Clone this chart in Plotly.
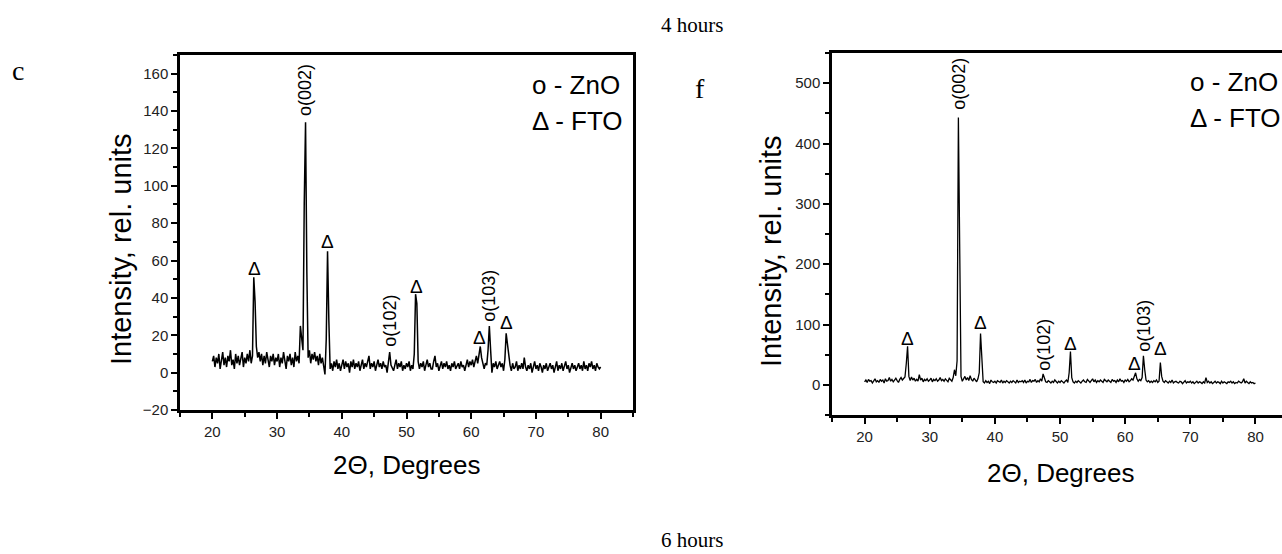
import plotly.graph_objects as go

# ---------------- data ----------------
two_theta_start = 20.0
two_theta_step = 0.2

# panel c (4 hours) intensity, every 0.2 degree, 20.0 .. 80.0
intensity_c = [
    6, 9, 3, 8, 5, 10, 2, 7, 11, 4,        # 20.0
    8, 3, 9, 6, 12, 4, 7, 2, 10, 5,        # 22.0
    9, 4, 7, 11, 3, 8, 5, 10, 6, 12,       # 24.0
    5, 9, 51, 38, 14, 8, 11, 6, 10, 4,     # 26.0
    9, 5, 11, 7, 3, 9, 6, 10, 4, 8,        # 28.0
    6, 10, 3, 8, 5, 11, 7, 2, 9, 6,        # 30.0
    10, 4, 8, 3, 11, 6, 9, 5, 25, 17,      # 32.0
    12, 91, 134, 54, 8, 12, 5, 10, 7, 11,  # 34.0
    6, 9, 4, 10, 5, 8, 3, -1, 18, 65,      # 36.0
    28, 2, 5, 1, 6, 3, 7, 2, 5, 1,         # 38.0
    4, 7, 2, 6, 3, 5, 0, 6, 3, 7,          # 40.0
    2, 5, 3, 6, 1, 4, 7, 2, 5, 3,          # 42.0
    6, 9, 2, 5, 3, 6, 1, 4, 7, 3,          # 44.0
    5, 2, 6, 3, 4, 0, 5, 11, 4, 2,         # 46.0
    1, 4, 7, 2, 5, 3, 6, 1, 4, 2,          # 48.0
    5, 3, 6, 1, 4, 2, 10, 42, 37, 6,       # 50.0
    2, 5, 3, 6, 1, 4, 7, 3, 5, 2,          # 52.0
    2, 6, 9, 3, 5, 1, 4, 6, 2, 5,          # 54.0
    3, 6, 2, 4, 1, 5, 3, 6, 2, 4,          # 56.0
    5, 2, 6, 3, 4, 1, 5, 7, 3, 6,          # 58.0
    4, 7, 3, 6, 9, 5, 9, 14, 8, 4,         # 60.0
    2, 5, 4, 12, 25, 12, 0, 5, 3, 6,       # 62.0
    2, 4, 6, 3, 5, 1, 7, 21, 15, 7,        # 64.0
    4, 1, 5, 2, 3, 6, 1, 4, 2, 5,          # 66.0
    2, 8, 3, 1, 4, 2, 5, 0, 3, 6,          # 68.0
    2, 4, 1, 5, 3, 0, 4, 2, 5, 1,          # 70.0
    3, 5, 2, 4, 0, 3, 6, 1, 4, 2,          # 72.0
    5, 1, 3, 6, 2, 4, 0, 3, 5, 2,          # 74.0
    4, 1, 3, 5, 2, 4, 1, 6, 2, 4,          # 76.0
    1, 5, 3, 6, 2, 4, 1, 5, 3, 2,          # 78.0
    3,                                     # 80.0
]

# panel f (6 hours) intensity, every 0.2 degree, 20.0 .. 80.0
intensity_f = [
    5, 8, 4, 9, 6, 7, 3, 8, 10, 5,         # 20.0
    7, 4, 9, 6, 8, 3, 10, 6, 7, 12,        # 22.0
    6, 9, 5, 8, 11, 7, 4, 9, 12, 8,        # 24.0
    10, 13, 35, 64, 14, 7, 13, 8, 11, 6,   # 26.0
    9, 6, 17, 8, 11, 5, 9, 7, 10, 6,       # 28.0
    8, 11, 5, 9, 7, 10, 6, 8, 12, 7,       # 30.0
    9, 6, 10, 7, 5, 11, 8, 6, 12, 25,      # 32.0
    15, 40, 443, 270, 14, 6, 9, 14, 8, 12, # 34.0
    7, 15, 9, 6, 11, 8, 5, 10, 20, 85,     # 36.0
    30, 5, 3, 7, 4, 6, 2, 8, 5, 4,         # 38.0
    6, 3, 7, 5, 4, 8, 3, 6, 4, 7,          # 40.0
    5, 3, 6, 4, 7, 5, 3, 8, 4, 6,          # 42.0
    5, 7, 4, 8, 3, 6, 5, 9, 4, 7,          # 44.0
    6, 9, 4, 7, 5, 10, 6, 18, 9, 5,        # 46.0
    4, 7, 5, 3, 6, 4, 8, 5, 3, 6,          # 48.0
    4, 7, 5, 3, 6, 8, 4, 20, 55, 12,       # 50.0
    5, 3, 6, 4, 7, 5, 3, 6, 8, 5,          # 52.0
    4, 9, 6, 4, 7, 10, 5, 8, 4, 7,         # 54.0
    5, 8, 6, 4, 9, 7, 5, 8, 6, 4,          # 56.0
    9, 6, 7, 4, 8, 5, 10, 6, 7, 4,         # 58.0
    8, 6, 9, 5, 7, 10, 8, 14, 20, 10,      # 60.0
    6, 9, 7, 12, 48, 25, 8, 5, 7, 4,       # 62.0
    6, 4, 7, 5, 8, 4, 6, 37, 14, 6,        # 64.0
    4, 7, 5, 3, 6, 4, 8, 3, 5, 6,          # 66.0
    4, 3, 6, 5, 2, 4, 7, 3, 5, 4,          # 68.0
    6, 3, 5, 2, 4, 6, 3, 5, 4, 2,          # 70.0
    5, 3, 12, 4, 6, 3, 5, 2, 4, 6,         # 72.0
    3, 5, 4, 2, 6, 3, 5, 4, 2, 5,          # 74.0
    4, 6, 3, 5, 2, 4, 3, 6, 4, 3,          # 76.0
    5, 10, 3, 6, 4, 2, 5, 3, 4, 2,         # 78.0
    3,                                     # 80.0
]

two_theta = [round(two_theta_start + i * two_theta_step, 1) for i in range(len(intensity_c))]

# peak labels (text, 2theta, intensity where label sits)
peak_text = ["Δ", "o(002)", "Δ", "o(102)", "Δ", "o(103)", "Δ", "Δ"]
peak_x_c = [26.5, 34.4, 37.8, 47.5, 51.5, 62.7, 61.3, 65.4]
peak_y_c = [56, 151, 70, 28, 46, 41, 19, 27]
peak_x_f = [26.6, 34.5, 37.8, 47.5, 51.6, 62.9, 61.5, 65.4]
peak_y_f = [77, 499, 103, 66, 68, 98, 36, 61]

legend_lines = ["o - ZnO", "Δ - FTO"]
x_title = "2Θ, Degrees"
y_title = "Intensity, rel. units"

# ---------------- figure ----------------
W, H = 1282, 554
SANS = "Liberation Sans, Arial, sans-serif"
SERIF = "Liberation Serif, Times New Roman, serif"


def px(x):
    return x / W


def py(y):
    return 1 - y / H


fig = go.Figure()
fig.add_trace(go.Scatter(x=two_theta, y=intensity_c, mode="lines",
                         line=dict(color="black", width=1.5), xaxis="x", yaxis="y",
                         showlegend=False, hoverinfo="skip"))
fig.add_trace(go.Scatter(x=two_theta, y=intensity_f, mode="lines",
                         line=dict(color="black", width=1.3), xaxis="x2", yaxis="y2",
                         showlegend=False, hoverinfo="skip"))

tickfont = dict(family=SANS, size=15, color="#222222")
common_axis = dict(showgrid=False, zeroline=False, showline=True, linecolor="black",
                   linewidth=2.5, ticks="outside", ticklen=6, tickwidth=2,
                   tickcolor="black", tickfont=tickfont, automargin=False)

fig.update_layout(
    width=W, height=H, autosize=False,
    margin=dict(l=0, r=0, t=0, b=0, pad=0),
    paper_bgcolor="white", plot_bgcolor="white",
    xaxis=dict(domain=[px(180), px(633)], range=[15, 85], dtick=10, tick0=0,
               mirror=True, anchor="y",
               minor=dict(dtick=5, tick0=0, ticks="outside", ticklen=4, tickwidth=2,
                          tickcolor="black"),
               **common_axis),
    yaxis=dict(domain=[py(410), py(55)], range=[-20, 170], dtick=20, tick0=0,
               mirror=True, anchor="x",
               minor=dict(dtick=10, tick0=0, ticks="outside", ticklen=4, tickwidth=2,
                          tickcolor="black"),
               **common_axis),
    xaxis2=dict(domain=[px(832), 1.0], range=[15, 84.07], dtick=10, tick0=0,
                mirror=True, anchor="y2",
                minor=dict(dtick=5, tick0=0, ticks="outside", ticklen=4, tickwidth=2,
                           tickcolor="black"),
                **common_axis),
    yaxis2=dict(domain=[py(415), py(53)], range=[-50, 550], dtick=100, tick0=0,
                mirror=False, anchor="x2",
                minor=dict(dtick=50, tick0=0, ticks="outside", ticklen=4, tickwidth=2,
                           tickcolor="black"),
                **common_axis),
)

ann = []
# peak labels
for xr, yr, xs, ys in (("x", "y", peak_x_c, peak_y_c), ("x2", "y2", peak_x_f, peak_y_f)):
    for t, xv, yv in zip(peak_text, xs, ys):
        rot = t != "Δ"
        ann.append(dict(x=xv, y=yv, xref=xr, yref=yr, text=t, showarrow=False,
                        textangle=-90 if rot else 0, xanchor="center", yanchor="middle",
                        font=dict(family=SANS, size=18 if rot else 19, color="black")))

# legends in the panels
for x0, ys in ((530, (85, 121)), (1188, (82, 118))):
    for t, yv in zip(legend_lines, ys):
        ann.append(dict(x=px(x0), y=py(yv), xref="paper", yref="paper", text=t,
                        showarrow=False, xanchor="left", yanchor="middle",
                        font=dict(family=SANS, size=26, color="black")))

# axis titles
for xc, yc in ((121, 249), (771, 251)):
    ann.append(dict(x=px(xc), y=py(yc), xref="paper", yref="paper", text=y_title,
                    showarrow=False, textangle=-90, xanchor="center", yanchor="middle",
                    font=dict(family=SANS, size=29, color="black")))
for xc, yc in ((406, 465), (1060, 473)):
    ann.append(dict(x=px(xc), y=py(yc), xref="paper", yref="paper", text=x_title,
                    showarrow=False, xanchor="center", yanchor="middle",
                    font=dict(family=SANS, size=26, color="black")))

# figure captions and panel letters
for t, xc, yc, sz in (("4 hours", 692, 25, 21), ("6 hours", 692, 540, 21),
                      ("c", 18, 70, 28), ("f", 700, 88, 28)):
    ann.append(dict(x=px(xc), y=py(yc), xref="paper", yref="paper", text=t,
                    showarrow=False, xanchor="center", yanchor="middle",
                    font=dict(family=SERIF, size=sz, color="black")))

fig.update_layout(annotations=ann)
fig.write_html("out.html", config={"displayModeBar": False},
               post_script="document.body.style.margin='0';document.body.style.overflow='hidden';")
